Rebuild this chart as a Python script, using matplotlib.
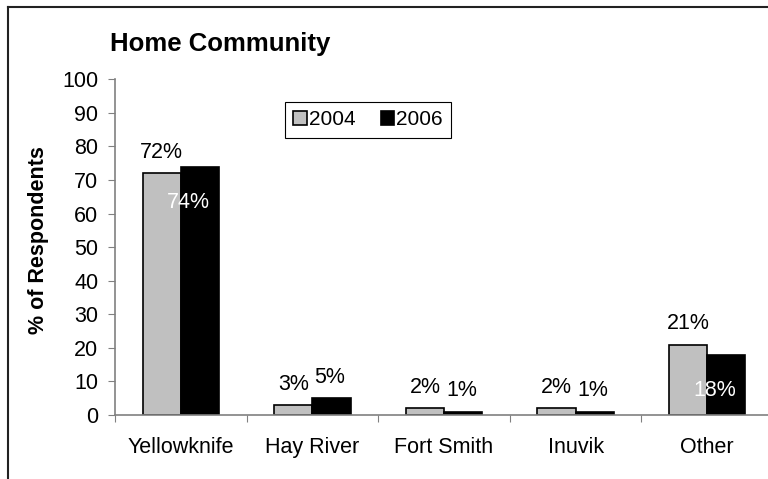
import numpy as np
import matplotlib
matplotlib.use("Agg")
import matplotlib.pyplot as plt
from matplotlib.lines import Line2D
from matplotlib.patches import Patch

plt.rcParams['font.family'] = ['Liberation Sans', 'DejaVu Sans']

categories = ["Yellowknife", "Hay River", "Fort Smith", "Inuvik", "Other"]
years = ["2004", "2006"]
v2004 = [72, 3, 2, 2, 21]
v2006 = [74, 5, 1, 1, 18]
inside_2006 = [True, False, False, False, True]   # Excel put these labels inside the bar
yticks = list(range(0, 101, 10))

fs = 15.5

fig = plt.figure(figsize=(7.68, 4.79), dpi=100)
ax = fig.add_axes([115/768, 64/479, 658/768, 335.7/479])

x = np.arange(len(categories))
w = 0.29
b1 = ax.bar(x - w/2, v2004, w, color="#c0c0c0", edgecolor="black", linewidth=1.2, label=years[0])
b2 = ax.bar(x + w/2, v2006, w, color="black", edgecolor="black", linewidth=1.2, label=years[1])

# data labels
for xi, v in zip(x - w/2, v2004):
    ax.annotate(f"{v}%", (xi, v), xytext=(0, 15), textcoords="offset points",
                ha="center", va="center", fontsize=fs)
for xi, v, ins in zip(x + w/2, v2006, inside_2006):
    if ins:
        ax.annotate(f"{v}%", (xi, v), xytext=(-8, -26), textcoords="offset points",
                    ha="center", va="center", fontsize=fs, color="white")
    else:
        ax.annotate(f"{v}%", (xi, v), xytext=(-1, 15), textcoords="offset points",
                    ha="center", va="center", fontsize=fs)

ax.set_xlim(-0.5, len(categories) - 0.5)
ax.set_ylim(0, 100)
ax.set_yticks(yticks)
ax.set_xticks(np.arange(len(categories) + 1) - 0.5)
ax.set_xticklabels([])
ax.set_xticks(x, minor=True)
ax.set_xticklabels(categories, minor=True, fontsize=fs)
ax.tick_params(axis="x", which="minor", length=0, pad=16)
ax.tick_params(axis="x", which="major", length=5, color="#808080", direction="out")
ax.tick_params(axis="y", length=5, color="#808080", direction="out", labelsize=fs, pad=7)

for s in ["top", "right"]:
    ax.spines[s].set_visible(False)
for s in ["left", "bottom"]:
    ax.spines[s].set_color("#808080")
    ax.spines[s].set_linewidth(1.2)

fig.text(110/768, 1 - 44/479, "Home Community", fontsize=18.5, fontweight="bold",
         ha="left", va="center")
fig.text(39/768, 1 - 240/479, "% of Respondents", fontsize=fs, fontweight="bold",
         rotation=90, ha="center", va="center")

handles = [Patch(facecolor="#c0c0c0", edgecolor="black", linewidth=1.2),
           Patch(facecolor="black", edgecolor="black", linewidth=1.2)]
leg = fig.legend(handles, years, loc="upper left", bbox_to_anchor=(285/768, 1 - 102/479),
                 ncol=2, fontsize=15, frameon=True, fancybox=False, framealpha=1,
                 edgecolor="black", handlelength=0.65, handleheight=0.65,
                 handletextpad=0.1, columnspacing=1.2, borderpad=0.4,
                 borderaxespad=0)
leg.get_frame().set_linewidth(0.8)

# outer chart border (left and top only visible)
fig.add_artist(Line2D([8/768, 8/768], [0, 1 - 7/479], transform=fig.transFigure,
                      color="#222222", linewidth=1.5))
fig.add_artist(Line2D([8/768, 1], [1 - 7/479, 1 - 7/479], transform=fig.transFigure,
                      color="#222222", linewidth=1.5))

plt.savefig("out.png", dpi=100)
